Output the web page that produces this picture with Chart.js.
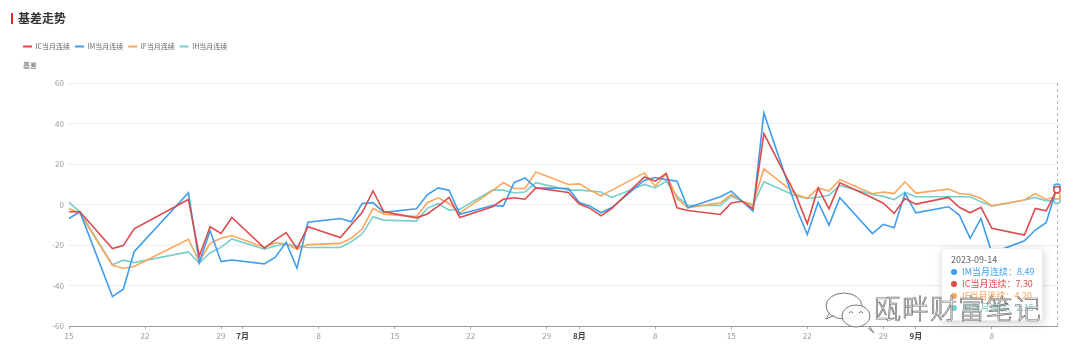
<!DOCTYPE html>
<html>
<head>
<meta charset="utf-8">
<script src="https://cdn.jsdelivr.net/npm/chart.js@4.4.1/dist/chart.umd.min.js"></script>
<style>
html,body{margin:0;padding:0;background:#fff;}
#wrap{position:relative;width:1080px;height:358px;overflow:hidden;font-family:"Noto Sans CJK SC","Noto Sans",sans-serif;}
#c{position:absolute;left:0;top:0;}
#bar{position:absolute;left:11px;top:13px;width:2px;height:11px;background:#e0262b;}
#ttl{position:absolute;left:18px;top:9px;font-size:12px;line-height:18px;font-weight:bold;color:#333;}
#yname{position:absolute;left:23px;top:60px;font-size:7px;line-height:10px;color:#666;}
#tip{position:absolute;opacity:0;background:rgba(255,255,255,0.97);border:1px solid #eee;border-radius:4px;
 box-shadow:1px 2px 8px rgba(0,0,0,0.18);padding:5px 8px 6px 9px;font-size:9px;line-height:12px;white-space:nowrap;z-index:2;}
#tip .tt{color:#666;margin-bottom:0px;}
#tip .dot{display:inline-block;width:6px;height:6px;border-radius:50%;margin-right:5px;vertical-align:0px;}
#wm{position:absolute;left:874px;top:292px;font-size:27px;line-height:32px;letter-spacing:1px;color:rgba(255,255,255,0.6);
 -webkit-text-stroke:0.7px #707070;z-index:3;font-weight:300;}
#wmicon{position:absolute;left:822px;top:288px;z-index:3;}
</style>
</head>
<body>
<div id="wrap">
  <canvas id="c" width="1080" height="358"></canvas>
  <div id="bar"></div>
  <div id="ttl">基差走势</div>
  <div id="yname">基差</div>
  <div id="tip"></div>
  <svg id="wmicon" width="60" height="48" viewBox="0 0 60 48">
    <path d="M8 24 L4 31 L13 27" fill="#fff" stroke="#777" stroke-width="1"/>
    <ellipse cx="22" cy="18" rx="18" ry="13" fill="rgba(255,255,255,0.7)" stroke="#777" stroke-width="1"/>
    <path d="M46 40 L52 45 L47 38" fill="#fff" stroke="#777" stroke-width="1"/>
    <ellipse cx="34" cy="28" rx="14" ry="11" fill="rgba(255,255,255,0.85)" stroke="#777" stroke-width="1"/>
    <path d="M27 25 q2 -3 4 0 M37 25 q2 -3 4 0" fill="none" stroke="#777" stroke-width="1"/>
  </svg>
  <div id="wm">瓯畔财富笔记</div>
</div>
<script>
// ---- data ----
const dates = ['2023-06-15','2023-06-16','2023-06-19','2023-06-20','2023-06-21','2023-06-26','2023-06-27','2023-06-28','2023-06-29','2023-06-30',
 '2023-07-03','2023-07-04','2023-07-05','2023-07-06','2023-07-07','2023-07-10','2023-07-11','2023-07-12','2023-07-13','2023-07-14',
 '2023-07-17','2023-07-18','2023-07-19','2023-07-20','2023-07-21','2023-07-24','2023-07-25','2023-07-26','2023-07-27','2023-07-28',
 '2023-07-31','2023-08-01','2023-08-02','2023-08-03','2023-08-04','2023-08-07','2023-08-08','2023-08-09','2023-08-10','2023-08-11',
 '2023-08-14','2023-08-15','2023-08-16','2023-08-17','2023-08-18','2023-08-21','2023-08-22','2023-08-23','2023-08-24','2023-08-25',
 '2023-08-28','2023-08-29','2023-08-30','2023-08-31','2023-09-01','2023-09-04','2023-09-05','2023-09-06','2023-09-07','2023-09-08',
 '2023-09-11','2023-09-12','2023-09-13','2023-09-14'];

const icValues = [-3.6,-3.6,-21.8,-20.3,-12,2.5,-25.4,-11,-14.3,-6.4,
 -21.5,-17.5,-13.9,-21.8,-11,-16.3,-10,-4,6.7,-3.6,
 -6.6,-4.7,-0.8,3.5,-6.4,-1.1,2.6,3.3,2.6,8.2,
 5.9,0.2,-1.9,-5.6,-1.9,13.6,11.5,15.3,-1.6,-3,
 -4.9,0.8,1.6,-2.1,35,4,-9.5,8.2,-2.1,10.7,
 3.3,0.6,-4.4,3,0.2,3.5,-1.4,-4.1,-1.4,-11.8,
 -15.1,-1.9,-3.1,7.30];

const imValues = [-6.9,-3.6,-45.5,-41.8,-23.3,5.8,-28.7,-13,-28.2,-27.4,
 -29.3,-26,-18.7,-31.5,-8.8,-6.9,-8.5,0.5,0.9,-3.9,
 -2.1,4.8,8.2,7.1,-4.8,-0.5,-0.8,10.8,13.1,8.2,
 7.9,1,-0.8,-4.1,-1.5,12,13.3,12.3,11.5,-1.6,
 3.8,6.6,1.6,-3.3,45.2,-2,-14.8,1.1,-10.2,3.3,
 -14.4,-9.8,-11.5,5.5,-4.1,-1.1,-5.2,-16.7,-6.9,-24,
 -17.9,-12.6,-9,8.49];

const ifValues = [-2,-4.4,-30,-31.5,-30.6,-17.2,-28.2,-19.2,-16.7,-15.3,
 -21.2,-18.9,-19.5,-22,-19.8,-19.2,-16.7,-12.1,-1.9,-4.8,
 -6,0.9,3.3,0.5,-4.1,6.7,10.8,7.9,7.9,16.1,
 9.9,10.2,7.1,4.3,7.1,15.6,9,15.3,3,-1.6,
 0.8,4.9,1.6,0,17.6,4.9,3.1,8.2,6.6,12.3,
 5.3,6.2,5.4,11.2,5.6,7.6,5.4,4.9,3,-0.6,
 2.2,5.4,2.5,4.20];

const ihValues = [1,-3.6,-29.7,-27.5,-28.7,-23.4,-29,-23.8,-21.2,-17,
 -22.1,-20.5,-19.5,-20.5,-21.2,-21.2,-18.4,-14.6,-6,-7.7,
 -8.2,-1.9,0.5,-2.8,-2.3,7.1,7.1,5.7,6.2,10.8,
 7.1,7.1,6.7,6.2,3.5,9.9,8.2,11.5,4.1,-0.5,
 -0.5,4.1,1.6,-0.5,11.2,4.1,3,3.6,4.6,9.4,
 4.9,4,2.4,6,3.8,3.8,3.8,3.8,1.3,-0.8,
 2.2,3.5,1.7,2.15];

const seriesNames = ['IC当月连续','IM当月连续','IF当月连续','IH当月连续'];
const seriesColors = ['#dd4b4d','#3f9ded','#fca65c','#76cfcb'];

const xTickDates = ['2023-06-15','2023-06-22','2023-06-29','2023-07-01','2023-07-08','2023-07-15','2023-07-22','2023-07-29',
 '2023-08-01','2023-08-08','2023-08-15','2023-08-22','2023-08-29','2023-09-01','2023-09-08'];
const xTickLabels = ['15','22','29','7月','8','15','22','29','8月','8','15','22','29','9月','8'];

const yMin = -60, yMax = 60, yStep = 20;

// ---- helpers ----
const DAY = 86400000;
const t0 = Date.parse(dates[0]);
const dayOf = d => (Date.parse(d) - t0) / DAY;
const xs = dates.map(dayOf);
const xTicks = xTickDates.map(dayOf);
const isMonth = i => /月/.test(xTickLabels[i] || '');

Chart.defaults.font.family = '"Noto Sans CJK SC","Noto Sans",sans-serif';

const allValues = [icValues, imValues, ifValues, ihValues];
const datasets = allValues.map((vals, i) => ({
  label: seriesNames[i],
  data: vals.map((v, j) => ({x: xs[j], y: v})),
  borderColor: seriesColors[i],
  backgroundColor: seriesColors[i],
  borderWidth: 1.6,
  pointRadius: 0,
  pointHoverRadius: 3.2,
  pointHoverBorderWidth: 1.5,
  pointHoverBackgroundColor: '#fff',
  pointHoverBorderColor: seriesColors[i],
  tension: 0,
  clip: false
}));

const legendSpacer = {
  id: 'legendSpacer',
  beforeLayout(chart) {
    const lg = chart.legend;
    if (lg && !lg.__patched) {
      const f = lg.fit;
      lg.fit = function () { f.call(this); this.height = 45; };
      lg.__patched = true;
    }
  }
};

const pointerLine = {
  id: 'pointerLine',
  beforeDatasetsDraw(chart) {
    const act = chart.getActiveElements();
    if (!act.length) return;
    const x = Math.round(act[0].element.x) + 0.5;
    const {top, bottom} = chart.chartArea;
    const ctx = chart.ctx;
    ctx.save();
    ctx.strokeStyle = '#b5b5b5';
    ctx.lineWidth = 1;
    ctx.setLineDash([3, 3]);
    ctx.beginPath();
    ctx.moveTo(x, top);
    ctx.lineTo(x, bottom);
    ctx.stroke();
    ctx.restore();
  }
};

function externalTooltip(context) {
  const {chart, tooltip} = context;
  const el = document.getElementById('tip');
  if (tooltip.opacity === 0 || !tooltip.dataPoints || !tooltip.dataPoints.length) { el.style.opacity = 0; return; }
  let html = '<div class="tt">' + tooltip.title[0] + '</div>';
  tooltip.dataPoints.forEach(dp => {
    const c = dp.dataset.borderColor;
    html += '<div style="color:' + c + '"><span class="dot" style="background:' + c + '"></span>' +
      dp.dataset.label + '：' + dp.parsed.y.toFixed(2) + '</div>';
  });
  el.innerHTML = html;
  el.style.opacity = 1;
  const w = el.offsetWidth;
  el.style.left = (tooltip.caretX - 14 - w) + 'px';
  el.style.top = (chart.chartArea.bottom - 78) + 'px';
}

const chart = new Chart(document.getElementById('c'), {
  type: 'line',
  data: { datasets },
  plugins: [legendSpacer, pointerLine],
  options: {
    responsive: false,
    animation: false,
    devicePixelRatio: 1,
    layout: { padding: { left: 18, right: 23, top: 38, bottom: 18 } },
    interaction: { mode: 'index', intersect: false },
    plugins: {
      legend: {
        position: 'top',
        align: 'start',
        labels: {
          boxWidth: 9,
          boxHeight: 2,
          padding: 5,
          color: '#666',
          font: { size: 7 },
          generateLabels: (ch) => Chart.defaults.plugins.legend.labels.generateLabels(ch).map(l => Object.assign(l, {lineWidth: 0}))
        }
      },
      tooltip: {
        enabled: false,
        external: externalTooltip,
        itemSort: (a, b) => b.parsed.y - a.parsed.y,
        callbacks: { title: items => dates[items[0].dataIndex] }
      }
    },
    scales: {
      x: {
        type: 'linear',
        min: xs[0],
        max: xs[xs.length - 1],
        afterBuildTicks: s => { s.ticks = xTicks.map(v => ({value: v})); },
        afterFit: s => { s.height = 14; },
        grid: { drawOnChartArea: false, drawTicks: true, tickLength: 3, color: '#a8a8a8' },
        border: { display: true, color: '#9a9a9a', width: 1 },
        ticks: {
          autoSkip: false,
          maxRotation: 0,
          padding: 2,
          callback: (v, i) => xTickLabels[i],
          color: c => isMonth(c.index) ? '#444' : '#999',
          font: c => ({ size: 8, weight: isMonth(c.index) ? 'bold' : 'normal' })
        }
      },
      y: {
        min: yMin,
        max: yMax,
        afterFit: s => { s.width = 51; },
        grid: { color: '#e9edf4', drawTicks: false },
        border: { display: false },
        ticks: { stepSize: yStep, padding: 5, color: '#999', font: { size: 8 } }
      }
    }
  }
});

const last = dates.length - 1;
const act = datasets.map((d, i) => ({datasetIndex: i, index: last}));
chart.setActiveElements(act);
const meta = chart.getDatasetMeta(1).data[last];
chart.tooltip.setActiveElements(act, {x: meta.x, y: meta.y});
chart.update();
</script>
</body>
</html>
